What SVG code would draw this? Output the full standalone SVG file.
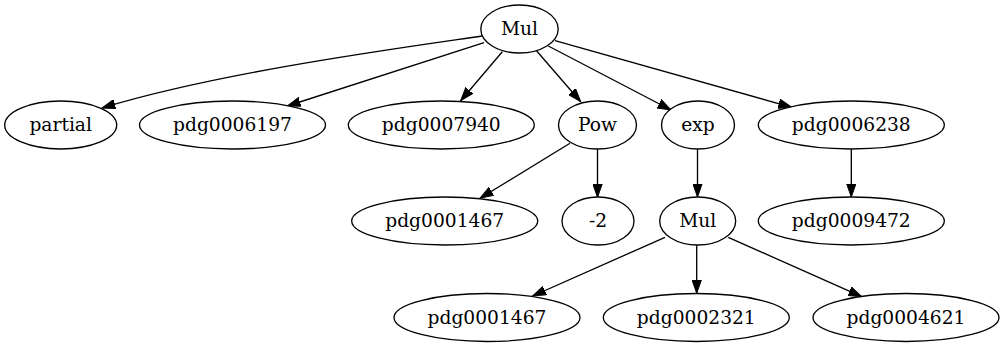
<svg xmlns="http://www.w3.org/2000/svg" width="1004" height="347" viewBox="0 0 1004 347">
<style>
.n ellipse{fill:#fff;stroke:#000;stroke-width:1.33}
.n text{font-family:"DejaVu Serif",serif;font-size:18.67px;text-anchor:middle;fill:#000}
.e path{fill:none;stroke:#000;stroke-width:1.33;marker-end:url(#a)}
</style>
<defs>
<marker id="a" markerUnits="userSpaceOnUse" markerWidth="14" markerHeight="10" viewBox="0 0 14 10" refX="13.3" refY="5" orient="auto">
<path d="M0,0.33 L13.3,5 L0,9.67 Z" fill="#000" stroke="#000" stroke-width="1"/>
</marker>
</defs>
<rect width="1004" height="347" fill="#fff"/>
<g id="edges" class="e">
<path d="M482,36 C400,48 220,72 102,108"/>
<path d="M484,42.7 L287.3,106"/>
<path d="M502.3,51.7 L460.7,100.7"/>
<path d="M536.7,51 L580.7,101.7"/>
<path d="M548.3,46 L671,110"/>
<path d="M555,40.7 L791.7,107.3"/>
<path d="M570,143.3 L480,198.3"/>
<path d="M597.5,149 L597.5,197.3"/>
<path d="M697.5,149 L697.5,197"/>
<path d="M851.3,149 L851.3,197"/>
<path d="M665,237.3 L532.7,296"/>
<path d="M696.7,245 L696.7,293.3"/>
<path d="M728.3,237.3 L861.7,296.7"/>
</g>
<g id="n_mul" class="n"><ellipse cx="519.5" cy="29" rx="38.7" ry="24"/><text x="519.5" y="35">Mul</text></g>
<g id="n_partial" class="n"><ellipse cx="60.7" cy="125" rx="56" ry="24"/><text x="60.7" y="131">partial</text></g>
<g id="n_pdg0006197" class="n"><ellipse cx="232.5" cy="125" rx="93" ry="24"/><text x="232.5" y="131">pdg0006197</text></g>
<g id="n_pdg0007940" class="n"><ellipse cx="441.3" cy="125" rx="93" ry="24"/><text x="441.3" y="131">pdg0007940</text></g>
<g id="n_pow" class="n"><ellipse cx="597.5" cy="125" rx="39" ry="24"/><text x="597.5" y="131">Pow</text></g>
<g id="n_exp" class="n"><ellipse cx="698" cy="125" rx="36.5" ry="24"/><text x="698" y="131">exp</text></g>
<g id="n_pdg0006238" class="n"><ellipse cx="851.3" cy="125" rx="93" ry="24"/><text x="851.3" y="131">pdg0006238</text></g>
<g id="n_pdg0001467a" class="n"><ellipse cx="444.7" cy="221" rx="93" ry="24"/><text x="444.7" y="227">pdg0001467</text></g>
<g id="n_m2" class="n"><ellipse cx="598" cy="221" rx="36" ry="24"/><text x="598" y="227">-2</text></g>
<g id="n_mul2" class="n"><ellipse cx="697.7" cy="221" rx="38" ry="24"/><text x="697.7" y="227">Mul</text></g>
<g id="n_pdg0009472" class="n"><ellipse cx="851.3" cy="221" rx="93" ry="24"/><text x="851.3" y="227">pdg0009472</text></g>
<g id="n_pdg0001467b" class="n"><ellipse cx="487" cy="317.5" rx="93" ry="24"/><text x="487" y="323.5">pdg0001467</text></g>
<g id="n_pdg0002321" class="n"><ellipse cx="696.3" cy="317.5" rx="93" ry="24"/><text x="696.3" y="323.5">pdg0002321</text></g>
<g id="n_pdg0004621" class="n"><ellipse cx="906" cy="317.5" rx="93" ry="24"/><text x="906" y="323.5">pdg0004621</text></g>
</svg>
